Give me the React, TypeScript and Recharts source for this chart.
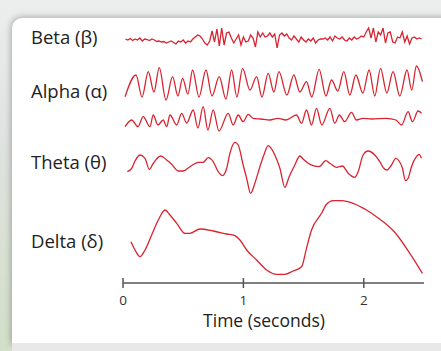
import React from 'react';
import { LineChart, Line, XAxis, YAxis } from 'recharts';

// ---- data (time in seconds, amplitude in arbitrary units, up = positive) ----
const BETA_START = 0.02;
const BETA_STEP = 0.02;
const betaValues = [
  1, 0, 1.5, -0.5, 1, 0, 2, -1, 1, 0.5, -0.5, 1, 0, -1.5,
  -1, -2, -1.5, -3, -2, -1, -2.5, -4, -1, -2, 0, -3, -1, -2,
  1, 3, 5, 4, 1, -3, -5,
  -1, 9, -2, 11, -6, 12, -5, 7,
  8, 2, -3, 1, 5, -5, 3, -2, -1, 5, 2, -7, 8, 3,
  7, 3, 4, 7, 3, 6, -8, 5, 7, 4, 6, 2, 0, 4, 1, -2,
  3, 0, -2, 1, -1, 2, -3, 0, 1,
  1, 2, 0, 3, -1, 4, 2, 1, 3, 0, -1, 2, 0, 3, 1, 2, 4, 3,
  8, 12, 2, 12, -2, 8, 5, 12, -3, 7, 8, -2, -3, 3, 2,
  8, -2, 4, -4, 2, 3, 1, 2, 1,
];

const alphaTimes = [
  0.017, 0.108, 0.158, 0.21, 0.257, 0.301, 0.357, 0.412, 0.456, 0.495, 0.539, 0.578,
  0.631, 0.689, 0.739, 0.799, 0.855, 0.902, 0.946, 0.993, 1.054, 1.11, 1.154, 1.206,
  1.253, 1.295, 1.361, 1.419, 1.469, 1.524, 1.568, 1.629, 1.685, 1.732, 1.784, 1.834,
  1.884, 1.934, 1.992, 2.044, 2.091, 2.139, 2.191, 2.243, 2.299, 2.359, 2.398, 2.437, 2.487,
];
const alphaValues = [
  -12.7, 9, -13, 12.3, -8, 16.3, -16, 7.3, -12, 5.7, -10, 14,
  -13, 14, -12, 7.3, -15, 14, -13, 15.7, -6, 7.3, -13, 10.7,
  -8, 12.3, -11, 9, -8, 2.3, -13, 14.7, -12, 4, -7, 12.3,
  -11, 9, -9, 14, -12, 15.7, -9, 12.3, -12, 14, -6, 18, 2.3,
];

const alpha2Times = [
  0.017, 0.072, 0.124, 0.168, 0.224, 0.251, 0.29, 0.334, 0.363, 0.39, 0.446, 0.487,
  0.529, 0.583, 0.622, 0.666, 0.705, 0.749, 0.797, 0.874, 0.915, 0.957, 0.998, 1.04,
  1.081, 1.145, 1.22, 1.286, 1.353, 1.441, 1.483, 1.524, 1.566, 1.607, 1.651, 1.718,
  1.759, 1.797, 1.841, 1.898, 1.939, 1.994, 2.066, 2.188, 2.266, 2.313, 2.368, 2.404,
  2.451, 2.479,
];
const alpha2Values = [
  -7.7, -1, -7.7, 2.3, -7.7, 4, -6, -1, -7.7, 4, -6, 5.7,
  -4, 9, -9, 12.3, -11, 9, -12, 5.7, -6, 4, -2.7, 4.7,
  0.7, 0, -1, 0.7, -1, 4, -4.3, 9, -6, 10.7, -6, 10.7,
  -4.3, 4, -2.7, 6.7, -1, 0.7, 0, 0.7, -1, -6, 7.3, -2.7,
  8, 5.7,
];

const thetaTimes = [
  0.036, 0.072, 0.1, 0.141, 0.183, 0.218, 0.251, 0.313, 0.363, 0.404, 0.459, 0.5,
  0.556, 0.625, 0.666, 0.708, 0.749, 0.791, 0.827, 0.861, 0.888, 0.929, 0.957, 0.998,
  1.027, 1.06, 1.095, 1.137, 1.17, 1.206, 1.22, 1.261, 1.303, 1.344, 1.38, 1.427,
  1.469, 1.496, 1.538, 1.579, 1.629, 1.685, 1.718, 1.773, 1.823, 1.87, 1.925, 1.953,
  1.994, 2.036, 2.091, 2.133, 2.166, 2.193, 2.23, 2.266, 2.293, 2.321, 2.346, 2.368,
  2.396, 2.437, 2.459, 2.479,
];
const thetaValues = [
  -6.7, -3.3, 4, 10, 6.7, -4.3, 1.7, 9, 5, 0.7, -6, -6,
  -1.7, 2.7, 2.7, 7.3, 3.3, -6.7, -10.7, -3.3, 11.7, 22.7, 20, 0,
  -13.3, -28.3, -18.3, -1.7, 10, 19.3, 18.3, 10, -3.3, -22.3, -11.7, 0,
  9, 6, 1.7, -0.7, -1.7, 4.3, 1.7, -2.3, -1, -8.3, -12.3, -6.7,
  10, 14, 10, 3.3, -3.3, -5, 0, 6.7, 4, -3.3, -15.7, -13.3,
  -1.7, 8.3, 10.7, 6.7,
];

const deltaTimes = [
  0.066, 0.1, 0.141, 0.183, 0.238, 0.293, 0.349, 0.39, 0.446, 0.515, 0.556, 0.639,
  0.749, 0.861, 0.929, 0.971, 1.027, 1.11, 1.193, 1.276, 1.344, 1.413, 1.483, 1.524,
  1.566, 1.649, 1.69, 1.745, 1.815, 1.911, 2.022, 2.105, 2.257, 2.382, 2.487,
];
const deltaValues = [
  -3.7, -12, -18.7, -12, 3, 18, 28, 23, 14.7, 4.7, 4.7, 9,
  7, 4, 2.3, -2, -12, -22, -32, -36.3, -36.3, -33, -28.7, -10.3,
  8, 24.7, 33.7, 37.3, 37.3, 34.7, 28, 21.3, 5.7, -15.3, -35.3,
];

const xTicks = [0, 1, 2];
const waveNames = ['Beta (β)', 'Alpha (α)', 'Theta (θ)', 'Delta (δ)'];
const axisTitle = 'Time (seconds)';

// ---- layout ----
const W = 441;
const H = 351;
const PLOT_LEFT = 123;
const PLOT_RIGHT = 424;
const PLOT_TOP = 25;
const PLOT_BOTTOM = 283;
const X_AXIS_HEIGHT = 30;
const RED = '#d9232f';
const FONT = '"Open Sans", "Noto Sans", sans-serif';

const lanes = { beta: 40, alpha: 84, alpha2: 119, theta: 165, delta: 238 };
const labelBaselines = [44, 98, 169, 248];

const toRows = (times: number[], values: number[]) =>
  times.map((t, i) => ({ t, v: values[i] }));

const betaData = betaValues.map((v, i) => ({ t: +(BETA_START + i * BETA_STEP).toFixed(3), v }));
const alphaData = toRows(alphaTimes, alphaValues);
const alpha2Data = toRows(alpha2Times, alpha2Values);
const thetaData = toRows(thetaTimes, thetaValues);
const deltaData = toRows(deltaTimes, deltaValues);

const laneDomain = (c: number): [number, number] => [c - PLOT_BOTTOM, c - PLOT_TOP];

const Tick = (props: any) => {
  const { x, y, payload } = props;
  return (
    <g>
      <line x1={x} x2={x} y1={y - 5} y2={y + 5} stroke="#555" strokeWidth={1.5} />
      <text x={x} y={y + 22} textAnchor="middle" fontSize={13.5} fill="#333" fontFamily={FONT}>
        {payload.value}
      </text>
    </g>
  );
};

const series = [
  { id: 'beta', data: betaData, type: 'linear' as const },
  { id: 'alpha', data: alphaData, type: 'monotone' as const },
  { id: 'alpha2', data: alpha2Data, type: 'monotone' as const },
  { id: 'theta', data: thetaData, type: 'monotone' as const },
  { id: 'delta', data: deltaData, type: 'monotone' as const },
];

export default function App() {
  return (
    <div
      style={{
        position: 'absolute',
        left: 0,
        top: 0,
        width: W,
        height: H,
        overflow: 'hidden',
        background: 'linear-gradient(to bottom, #eceeed 0%, #dfe2e0 40%, #d3dfc8 100%)',
      }}
    >
      <div
        style={{
          position: 'absolute',
          left: 12,
          top: 18,
          width: 445,
          height: 325,
          background: '#fff',
          borderRadius: '10px 0 0 0',
          boxShadow: '0 0 6px 1px rgba(0,0,0,0.28)',
        }}
      />
      <div style={{ position: 'absolute', left: 12, top: 343, width: 430, height: 8, background: '#e8e8e8' }} />
      <div style={{ position: 'absolute', left: 0, top: 0 }}>
        <LineChart
          width={W}
          height={H}
          margin={{
            top: PLOT_TOP,
            right: W - PLOT_RIGHT,
            bottom: H - PLOT_BOTTOM - X_AXIS_HEIGHT,
            left: PLOT_LEFT,
          }}
        >
          <XAxis
            dataKey="t"
            type="number"
            domain={[0, 2.5]}
            allowDataOverflow
            ticks={xTicks}
            tick={<Tick />}
            tickLine={false}
            tickSize={0}
            tickMargin={0}
            axisLine={{ stroke: '#555', strokeWidth: 1.5 }}
            height={X_AXIS_HEIGHT}
          />
          {series.map((s) => (
            <YAxis
              key={s.id}
              yAxisId={s.id}
              type="number"
              domain={laneDomain(lanes[s.id as keyof typeof lanes])}
              allowDataOverflow
              hide
            />
          ))}
          {series.map((s) => (
            <Line
              key={s.id}
              yAxisId={s.id}
              data={s.data}
              dataKey="v"
              type={s.type}
              stroke={RED}
              strokeWidth={1.3}
              dot={false}
              isAnimationActive={false}
            />
          ))}
        </LineChart>
      </div>
      <svg width={W} height={H} style={{ position: 'absolute', left: 0, top: 0, pointerEvents: 'none' }}>
        {waveNames.map((n, i) => (
          <text key={n} x={31} y={labelBaselines[i]} fontSize={18.5} fill="#222" fontFamily={FONT}>
            {n}
          </text>
        ))}
        <text x={264} y={327} textAnchor="middle" fontSize={17.5} fill="#222" fontFamily={FONT}>
          {axisTitle}
        </text>
      </svg>
    </div>
  );
}
